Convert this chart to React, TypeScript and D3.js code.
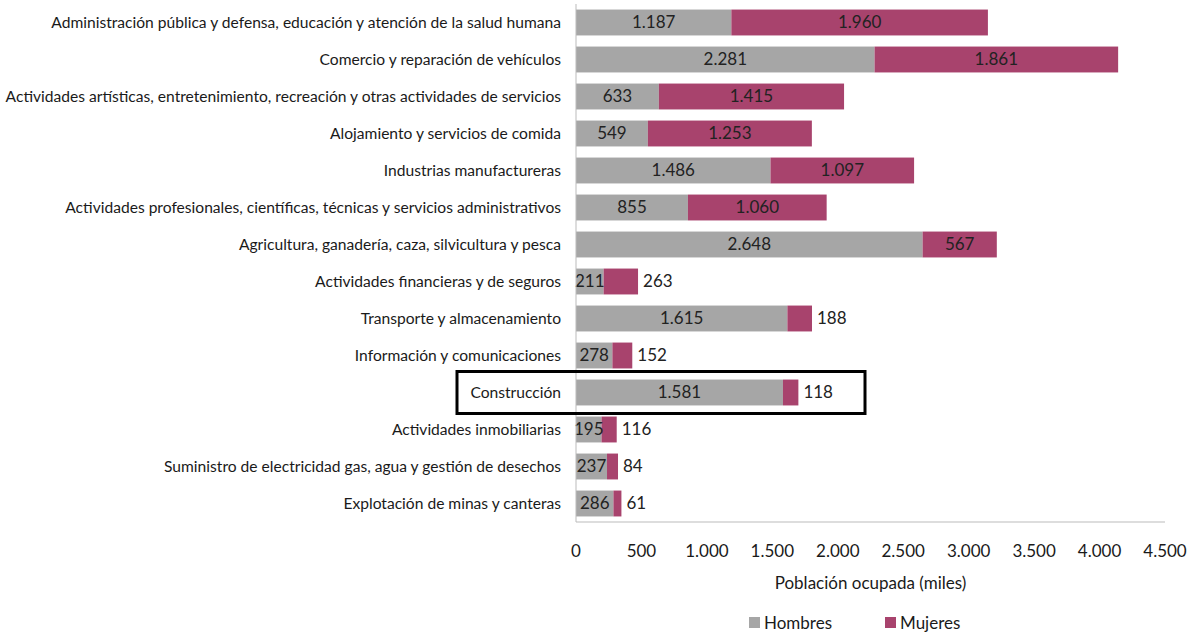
import React from "react";
import * as d3 from "d3";

const categories = [
  "Administración pública y defensa, educación y atención de la salud humana",
  "Comercio y reparación de vehículos",
  "Actividades artísticas, entretenimiento, recreación y otras actividades de servicios",
  "Alojamiento y servicios de comida",
  "Industrias manufactureras",
  "Actividades profesionales, científicas, técnicas y servicios administrativos",
  "Agricultura, ganadería, caza, silvicultura y pesca",
  "Actividades financieras y de seguros",
  "Transporte y almacenamiento",
  "Información y comunicaciones",
  "Construcción",
  "Actividades inmobiliarias",
  "Suministro de electricidad gas, agua y gestión de desechos",
  "Explotación de minas y canteras",
];
const hombres = [1187, 2281, 633, 549, 1486, 855, 2648, 211, 1615, 278, 1581, 195, 237, 286];
const mujeres = [1960, 1861, 1415, 1253, 1097, 1060, 567, 263, 188, 152, 118, 116, 84, 61];
const xTicks = [0, 500, 1000, 1500, 2000, 2500, 3000, 3500, 4000, 4500];
const seriesNames = ["Hombres", "Mujeres"];
const highlighted = "Construcción";

const GRAY = "#A6A6A6";
const MAGENTA = "#A8436D";
const FONT = "Lato, 'Open Sans', sans-serif";

const fmt = (v: number) => {
  const s = String(v);
  return s.length > 3 ? s.slice(0, s.length - 3) + "." + s.slice(s.length - 3) : s;
};

export default function App() {
  const W = 1196, H = 633;
  const x0 = 576, x1 = 1165;
  const x = d3.scaleLinear().domain([0, 4500]).range([x0, x1]);
  const y = d3.scaleBand<string>().domain(categories).range([4, 522]).paddingInner(0.3).paddingOuter(0.15);
  const bh = y.bandwidth();
  const hi = y(highlighted)! + bh / 2;

  return (
    <svg width={W} height={H} style={{ position: "absolute", left: 0, top: 0, background: "#fff" }} fontFamily={FONT}>
      {categories.map((c, i) => {
        const yy = y(c)!;
        const cy = yy + bh / 2;
        const h = hombres[i], m = mujeres[i];
        const hx = x(0), hw = x(h) - x(0);
        const mx = x(h), mw = x(h + m) - x(h);
        const inside = mw > 40;
        return (
          <g key={c}>
            <text x={561} y={cy} dy="0.35em" textAnchor="end" fontSize={15.6} fill="#1a1a1a">{c}</text>
            <rect x={hx} y={yy} width={hw} height={bh} fill={GRAY} />
            <rect x={mx} y={yy} width={mw} height={bh} fill={MAGENTA} />
            <text x={hx + hw / 2} y={cy} dy="0.35em" textAnchor="middle" fontSize={17} fill="#222">{fmt(h)}</text>
            <text x={inside ? mx + mw / 2 : x(h + m) + 5} y={cy} dy="0.35em" textAnchor={inside ? "middle" : "start"} fontSize={17} fill="#222">{fmt(m)}</text>
          </g>
        );
      })}
      <line x1={x0} x2={x0} y1={4} y2={522} stroke="#bbb" strokeWidth={1} />
      <line x1={x0} x2={x1} y1={522} y2={522} stroke="#bbb" strokeWidth={1} />
      {xTicks.map((t) => (
        <text key={t} x={x(t)} y={551} dy="0.35em" textAnchor="middle" fontSize={17} fill="#1a1a1a">{fmt(t)}</text>
      ))}
      <text x={(x0 + x1) / 2} y={583} dy="0.35em" textAnchor="middle" fontSize={17} fill="#1a1a1a">Población ocupada (miles)</text>
      {seriesNames.map((s, i) => {
        const lx = 749 + i * 136;
        return (
          <g key={s}>
            <rect x={lx} y={617} width={11} height={11} fill={i === 0 ? GRAY : MAGENTA} />
            <text x={lx + 15} y={623} dy="0.35em" fontSize={17} fill="#1a1a1a">{s}</text>
          </g>
        );
      })}
      <rect x={457} y={hi - 21} width={408} height={42} fill="none" stroke="#000" strokeWidth={3} />
    </svg>
  );
}
